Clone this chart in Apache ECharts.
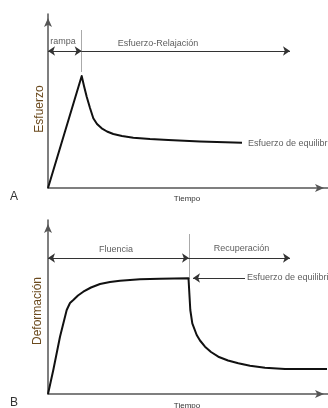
<!DOCTYPE html>
<html>
<head>
<meta charset="utf-8">
<script src="https://cdn.jsdelivr.net/npm/echarts@6/dist/echarts.min.js"></script>
<style>
  html, body { margin: 0; padding: 0; background: #fff; }
  #chart { width: 328px; height: 408px; }
</style>
</head>
<body>
<div id="chart"></div>
<script>
// Panel A: stress relaxation (x = time, y = stress)
const curveA = [[0, 0], [33.7, 112], [36, 102], [38.7, 91.3], [42, 80], [45.3, 69.7], [49, 64],
  [53.7, 59.7], [59, 56.5], [65.3, 54], [74, 52], [85.3, 50.3], [102, 49], [120.3, 48],
  [152, 46.5], [194, 45.3]];
// Panel B: creep and recovery (x = time, y = deformation)
const curveB = [[0, 0], [5.3, 24], [12, 57.3], [18.7, 84], [22, 91], [25.3, 94], [30, 98.5],
  [35.3, 102.3], [43, 106.5], [52, 110], [62, 112], [72, 113.3], [92, 114.7], [112, 115.2],
  [140.5, 115.7], [141, 114], [142.3, 84], [144.3, 70.7], [148.7, 59], [152, 53.5], [157, 47.3],
  [163, 42], [170.3, 37.3], [180, 33.5], [190.3, 30.7], [202, 28.2], [217, 26.3], [237, 25], [279, 25]];

const doubleArrowsA = [[[0, 137], [33.7, 137]]];
const singleArrowsA = [[[33.7, 137], [242, 137]]];
const guidesA = [[[33.7, 158], [33.7, 116]]];
const labelsA = [
  { name: 'rampa', value: [15, 146] },
  { name: 'Esfuerzo-Relajación', value: [110, 144] },
];
const endLabelsA = [{ name: 'Esfuerzo de equilibrio', value: [200, 44] }];

const doubleArrowsB = [[[0, 136], [141, 136]]];
const singleArrowsB = [[[141, 136], [242, 136]], [[197, 116], [145, 116]]];
const guidesB = [[[141, 160], [141, 115]]];
const labelsB = [
  { name: 'Fluencia', value: [68, 144] },
  { name: 'Recuperación', value: [193.5, 145] },
];
const endLabelsB = [{ name: 'Esfuerzo de equilibrio', value: [199, 116] }];

const font = 'Liberation Sans, Arial, sans-serif';
const ink = '#333';

function axisPair(gridIndex) {
  return {
    x: {
      type: 'value', gridIndex, min: 0, max: 280,
      axisLine: { show: true, symbol: ['none', 'arrow'], symbolSize: [6, 9], symbolOffset: [0, -4],
        lineStyle: { color: '#555', width: 1.5 } },
      axisTick: { show: false }, axisLabel: { show: false }, splitLine: { show: false },
    },
    y: {
      type: 'value', gridIndex, min: 0, max: 174,
      axisLine: { show: true, symbol: ['none', 'arrow'], symbolSize: [6, 9], symbolOffset: [0, -4],
        lineStyle: { color: '#555', width: 1.5 } },
      axisTick: { show: false }, axisLabel: { show: false }, splitLine: { show: false },
    },
  };
}

function panelSeries(idx, curve, doubles, singles, guides, labels, endLabels) {
  const ax = { xAxisIndex: idx, yAxisIndex: idx };
  return [
    {
      type: 'line', ...ax, data: curve, showSymbol: false, smooth: false,
      lineStyle: { color: '#111', width: 2, join: 'round' }, silent: true,
    },
    {
      type: 'lines', coordinateSystem: 'cartesian2d', ...ax,
      data: guides.map((c) => ({ coords: c })), symbol: 'none',
      lineStyle: { color: '#aaa', width: 1, opacity: 1 },
    },
    {
      type: 'lines', coordinateSystem: 'cartesian2d', ...ax,
      data: doubles.map((c) => ({ coords: c })), symbol: ['arrow', 'arrow'], symbolSize: 7,
      lineStyle: { color: ink, width: 1, opacity: 1 },
    },
    {
      type: 'lines', coordinateSystem: 'cartesian2d', ...ax,
      data: singles.map((c) => ({ coords: c })), symbol: ['none', 'arrow'], symbolSize: 7,
      lineStyle: { color: ink, width: 1, opacity: 1 },
    },
    {
      type: 'scatter', ...ax, data: labels, symbolSize: 0,
      label: { show: true, position: 'inside', formatter: '{b}', color: ink, fontSize: 9, fontFamily: font },
    },
    {
      type: 'scatter', ...ax, data: endLabels, symbolSize: 0,
      label: { show: true, position: 'right', distance: 0, formatter: '{b}', color: ink, fontSize: 9, fontFamily: font },
    },
  ];
}

const a = axisPair(0);
const b = axisPair(1);
const chart = echarts.init(document.getElementById('chart'));
chart.setOption({
  animation: false,
  backgroundColor: '#fff',
  grid: [
    { left: 48, right: 0, top: 14, height: 174 },
    { left: 48, right: 0, top: 220, height: 174 },
  ],
  xAxis: [a.x, b.x],
  yAxis: [a.y, b.y],
  series: [
    ...panelSeries(0, curveA, doubleArrowsA, singleArrowsA, guidesA, labelsA, endLabelsA),
    ...panelSeries(1, curveB, doubleArrowsB, singleArrowsB, guidesB, labelsB, endLabelsB),
  ],
  graphic: [
    { type: 'text', left: 10, top: 191, style: { text: 'A', fontSize: 12, fill: ink, fontFamily: font } },
    { type: 'text', x: 187, y: 199, style: { text: 'Tiempo', fontSize: 8, fill: ink, fontFamily: font, align: 'center', verticalAlign: 'middle' } },
    { type: 'text', x: 40, y: 109, rotation: Math.PI / 2,
      style: { text: 'Esfuerzo', fontSize: 12, fill: '#6b4a1e', fontFamily: font, align: 'center', verticalAlign: 'middle' } },
    { type: 'text', left: 10, top: 397, style: { text: 'B', fontSize: 12, fill: ink, fontFamily: font } },
    { type: 'text', x: 187, y: 406, style: { text: 'Tiempo', fontSize: 8, fill: ink, fontFamily: font, align: 'center', verticalAlign: 'middle' } },
    { type: 'text', x: 38, y: 311, rotation: Math.PI / 2,
      style: { text: 'Deformación', fontSize: 12, fill: '#6b4a1e', fontFamily: font, align: 'center', verticalAlign: 'middle' } },
  ],
});
</script>
</body>
</html>
